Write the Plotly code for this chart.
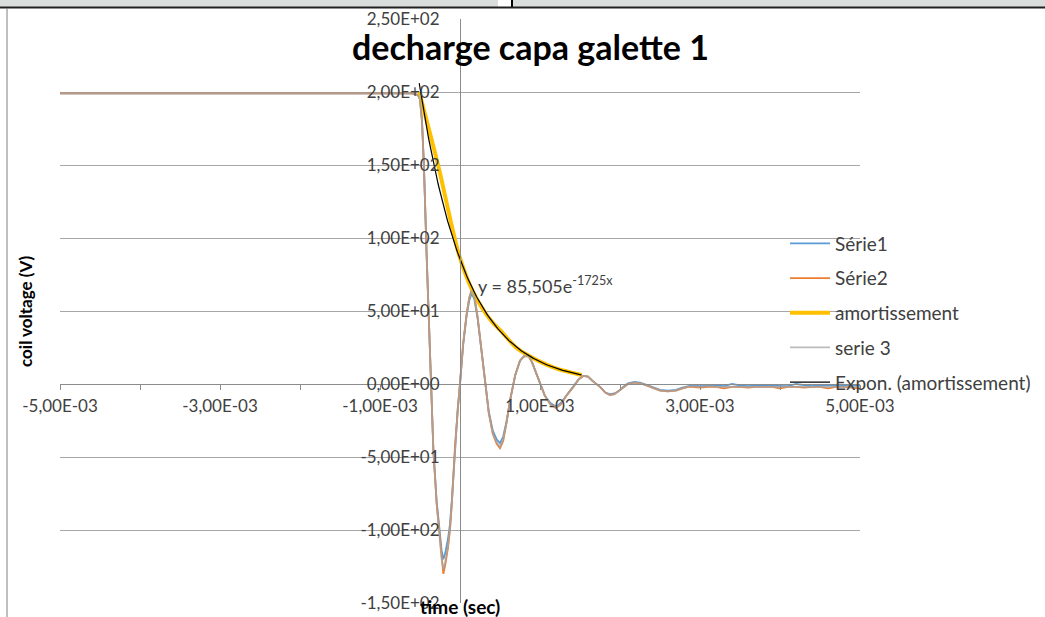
import plotly.graph_objects as go
import numpy as np

# ---------------- data (time in ms, voltage in V) ----------------
time_ms = [-5.0, -0.6, -0.525, -0.5, -0.475, -0.45, -0.417, -0.375, -0.333, -0.292,
           -0.258, -0.23, -0.208, -0.185, -0.15, -0.125, -0.1, -0.062, -0.03, 0.0,
           0.04, 0.083, 0.115, 0.146, 0.18, 0.22, 0.26, 0.312, 0.36, 0.41,
           0.458, 0.5, 0.54, 0.58, 0.63, 0.69, 0.75, 0.8, 0.855, 0.9,
           0.95, 1.0, 1.06, 1.13, 1.2, 1.26, 1.33, 1.417, 1.48, 1.54,
           1.6, 1.66, 1.75, 1.82, 1.875, 1.93, 1.98, 2.04, 2.1, 2.18,
           2.25, 2.33, 2.42, 2.5, 2.6, 2.7, 2.78, 2.85, 2.9, 3.0,
           3.1, 3.2, 3.3, 3.4, 3.5, 3.6, 3.7, 3.8, 3.9, 4.0,
           4.1, 4.2, 4.3, 4.4, 4.5, 4.6, 4.7, 4.8, 4.9, 5.0]

serie1 = [199, 199, 198, 195, 180, 148, 88, 20, -45, -80,
          -98, -114, -120, -116, -106, -96, -78, -41, -18, 0,
          27, 47, 57, 62, 58, 45, 27, 0, -19, -32,
          -38, -40.5, -36, -26, -10, 6, 16, 19, 19, 15,
          8, 0, -8, -13, -15.5, -13, -8, -2, 3, 5.5,
          5, 2, -2, -6, -7, -6.5, -5, -2, 0.5, 1.5,
          1, -0.5, -2.5, -4, -4.5, -4, -2.5, -1.5, -1, -1.5,
          -1, -1, -1.5, 0, -1, -1.5, -1, -1, -1.5, -1,
          -1.5, 0, -1, -1.5, -1, -1, -1.5, -1, -1, -1]

serie2 = [199, 199, 198, 195, 180, 148, 88, 20, -45, -82,
          -102, -122, -130, -124, -112, -100, -80, -42, -18, 0,
          28, 48, 59, 64.5, 60, 46, 27, 0, -20, -34,
          -41, -44, -39, -27, -10, 6, 16, 19, 19.5, 15,
          8, 0, -8, -14, -16.5, -14, -8, -2, 3, 5.5,
          5, 2, -2, -6, -7.5, -7, -5, -2, 0, 1,
          0.5, -1, -3, -4.5, -5, -4.5, -3, -2, -2, -2.5,
          -2, -2, -3, -2, -2, -2.5, -2, -2, -2, -3,
          -2, -2, -2.5, -2, -2, -3, -2, -2, -2.5, -3]

serie3 = [199, 199, 198, 195, 180, 148, 88, 20, -45, -82,
          -101, -120, -127, -122, -111, -99, -80, -42, -18, 0,
          28, 48, 59, 64, 60, 46, 27, 0, -20, -34,
          -40, -43, -38, -27, -10, 6, 16, 19, 19.5, 15,
          8, 0, -8, -14, -16, -14, -8, -2, 3, 5.5,
          5, 2, -2, -6, -7.5, -7, -5, -2, 0, 1,
          0.5, -1, -3, -4.5, -5, -4.5, -3, -2, -1.5, -2,
          -1.5, -2, -2, -1.5, -2, -2, -1.5, -2, -2, -1.5,
          -2, -1.5, -2, -2, -1.5, -2, -2, -1.5, -2, -2]

amort_ms = [-0.51, -0.27, -0.02, 0.146, 0.3, 0.417, 0.5, 0.7, 0.855, 1.0, 1.2, 1.52]
amort_v = [200, 149, 90, 65, 50, 41.5, 37, 25, 19.5, 15.3, 10.7, 6.2]

# Excel exponential trendline shown on the chart: y = 85,505 e^(-1725 x)
fit_a = 85.505
fit_b = -1725.0

x_tick_vals = [-5e-3, -4e-3, -3e-3, -2e-3, -1e-3, 0, 1e-3, 2e-3, 3e-3, 4e-3, 5e-3]
x_tick_text = ["-5,00E-03", "", "-3,00E-03", "", "-1,00E-03", "", "1,00E-03", "", "3,00E-03", "", "5,00E-03"]
y_tick_vals = [-150, -100, -50, 0, 50, 100, 150, 200, 250]
y_tick_text = ["-1,50E+02", "-1,00E+02", "-5,00E+01", "0,00E+00", "5,00E+01",
               "1,00E+02", "1,50E+02", "2,00E+02", "2,50E+02"]

title_text = "decharge capa galette 1"
x_title = "time (sec)"
y_title = "coil voltage (V)"

# ---------------- build ----------------
t = [v / 1000.0 for v in time_ms]
ta = [v / 1000.0 for v in amort_ms]
t_fit = np.linspace(min(ta), max(ta), 200)
y_fit = fit_a * np.exp(fit_b * t_fit)

FONT = "Lato"
TXT = "#404040"

fig = go.Figure()
fig.add_trace(go.Scatter(x=t, y=serie1, mode="lines", name="Série1",
                         line=dict(color="#5B9BD5", width=1.8), legendgroup="a"))
fig.add_trace(go.Scatter(x=t, y=serie2, mode="lines", name="Série2",
                         line=dict(color="#ED7D31", width=1.8), legendgroup="b"))
fig.add_trace(go.Scatter(x=ta, y=amort_v, mode="lines", name="amortissement",
                         line=dict(color="#FFC000", width=4, shape="spline", smoothing=0.8),
                         legendgroup="c"))
fig.add_trace(go.Scatter(x=t, y=serie3, mode="lines", name="serie 3",
                         line=dict(color="#A5A5A5", width=1.8), opacity=0.75, legendgroup="d"))
fig.add_trace(go.Scatter(x=t_fit, y=y_fit, mode="lines", name="Expon. (amortissement)",
                         line=dict(color="#000000", width=1.2), legendgroup="e"))

L, R, T, B = 60, 185, 19, 14
W, H = 1045, 617
PW, PH = W - L - R, H - T - B


def px(xp):
    return (xp - L) / PW


def py(yp):
    return (H - B - yp) / PH


fig.update_layout(
    width=W, height=H,
    margin=dict(l=L, r=R, t=T, b=B, autoexpand=False),
    paper_bgcolor="white", plot_bgcolor="white",
    font=dict(family=FONT, size=17, color=TXT),
    showlegend=True,
    legend=dict(x=px(785), y=py(313), xanchor="left", yanchor="middle",
                traceorder="grouped", tracegroupgap=7,
                font=dict(family=FONT, size=19, color=TXT),
                bgcolor="rgba(0,0,0,0)", itemwidth=40),
    xaxis=dict(range=[-5e-3, 5e-3], showgrid=False, zeroline=False,
               anchor="free", position=0.375,
               showline=True, linecolor="#8c8c8c", linewidth=1,
               ticks="outside", ticklen=5, tickcolor="#8c8c8c",
               tickvals=x_tick_vals, ticktext=x_tick_text, ticklabelstandoff=2,
               tickfont=dict(family=FONT, size=17, color=TXT)),
    yaxis=dict(range=[-150, 250], showgrid=True, gridcolor="#a6a6a6", gridwidth=1,
               zeroline=False, anchor="free", position=0.5,
               showline=True, linecolor="#8c8c8c", linewidth=1,
               ticks="", tickvals=y_tick_vals, ticktext=y_tick_text,
               ticklabelstandoff=17,
               tickfont=dict(family=FONT, size=17, color=TXT)),
)

annotations = [
    dict(text="<b>" + title_text + "</b>", x=px(530), y=py(46), xref="paper", yref="paper",
         xanchor="center", yanchor="middle", showarrow=False,
         font=dict(family=FONT, size=34, color="#000000")),
    dict(text="<b>" + x_title + "</b>", x=px(460), y=py(606), xref="paper", yref="paper",
         xanchor="center", yanchor="middle", showarrow=False,
         font=dict(family=FONT, size=19, color="#000000")),
    dict(text="<b>" + y_title + "</b>", x=px(25), y=py(311), xref="paper", yref="paper",
         xanchor="center", yanchor="middle", showarrow=False, textangle=-90,
         font=dict(family=FONT, size=17, color="#000000")),
    dict(text="y = 85,505e<sup>-1725x</sup>", x=0.2e-3, y=68, xref="x", yref="y",
         xanchor="left", yanchor="middle", showarrow=False,
         font=dict(family=FONT, size=18, color=TXT)),
]
fig.update_layout(annotations=annotations)

# window chrome around the captured chart
shapes = [
    dict(type="rect", xref="paper", yref="paper", x0=px(0), x1=px(W), y0=py(0), y1=py(7),
         fillcolor="#d9dedc", line=dict(width=0), layer="above"),
    dict(type="rect", xref="paper", yref="paper", x0=px(498), x1=px(511), y0=py(0), y1=py(7),
         fillcolor="white", line=dict(width=0), layer="above"),
    dict(type="line", xref="paper", yref="paper", x0=px(512), x1=px(512), y0=py(0), y1=py(8),
         line=dict(color="black", width=2), layer="above"),
    dict(type="line", xref="paper", yref="paper", x0=px(0), x1=px(W), y0=py(7.5), y1=py(7.5),
         line=dict(color="#202020", width=2), layer="above"),
    dict(type="line", xref="paper", yref="paper", x0=px(7), x1=px(7), y0=py(8), y1=py(H),
         line=dict(color="#7f7f7f", width=1), layer="above"),
]
fig.update_layout(shapes=shapes)

fig.write_html("out.html", config={"displayModeBar": False},
               post_script="document.body.style.margin='0';document.body.style.overflow='hidden';")
